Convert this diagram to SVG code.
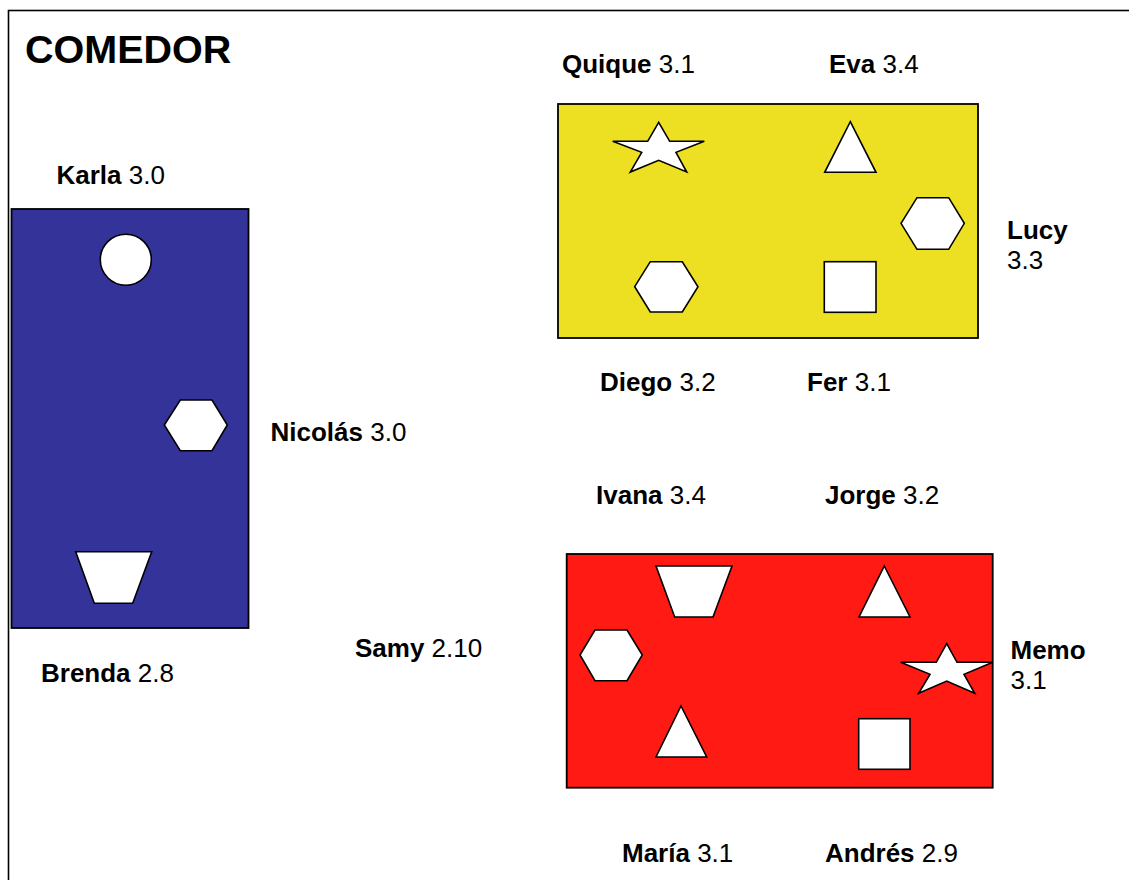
<svg xmlns="http://www.w3.org/2000/svg" width="1129" height="880" viewBox="0 0 1129 880">
<style>
.frame{fill:none;stroke:#000;stroke-width:1.6}
.table{stroke:#000;stroke-width:1.8}
.seat{fill:#fff;stroke:#000;stroke-width:1.6;stroke-linejoin:miter}
text{font-family:"Liberation Sans",Arial,sans-serif;font-size:26px;fill:#000}
.b{font-weight:bold}
.title{font-size:39.5px;font-weight:bold}
</style>
<rect width="1129" height="880" fill="#fff"/>
<rect class="frame" x="8.5" y="10.5" width="1200" height="1000"/>
<text class="title" x="25" y="63">COMEDOR</text>

<g id="mesa-azul">
<rect class="table" x="11.5" y="209" width="237" height="419" fill="#333399"/>
<circle class="seat" cx="125.8" cy="259.7" r="25.5"/>
<polygon class="seat" points="164.3,425 180.3,400 212,400 227.3,425 212,450.7 180.3,450.7"/>
<polygon class="seat" points="75.7,551.7 151.7,551.7 132.7,603.3 94.3,603.3"/>
</g>

<g id="mesa-amarilla">
<rect class="table" x="558" y="104" width="420" height="234" fill="#EDDF22"/>
<polygon class="seat" points="658.7,122.3 669.7,141.3 704.3,141.3 676,152.3 686.7,172 658.7,160.3 630.3,172 641.7,152.3 612.7,141.3 647.7,141.3"/>
<polygon class="seat" points="850.3,121.7 876,172.3 824.7,172.3"/>
<polygon class="seat" points="901,223.3 917,197.7 948.7,197.7 964.3,223.3 948.7,249.3 917,249.3"/>
<polygon class="seat" points="634.7,286.7 650.3,261.7 682.3,261.7 698,286.7 682.3,312 650.3,312"/>
<rect class="seat" x="824.3" y="261.7" width="51.7" height="50.6"/>
</g>

<g id="mesa-roja">
<rect class="table" x="566.7" y="554" width="426" height="233.7" fill="#FF1A14"/>
<polygon class="seat" points="656,566 732,566 713,617 674.7,617"/>
<polygon class="seat" points="884.3,566 910,617 859,617"/>
<polygon class="seat" points="580,655 595,630 627,630 642.3,655 627,680.7 595,680.7"/>
<polygon class="seat" points="946.7,643.7 957,662.3 992.7,662.3 964,674.3 974.7,693.3 946.7,681 918.7,693.3 930,674.3 900.7,662.3 936.3,662.3"/>
<polygon class="seat" points="681,706 706.7,757 656,757"/>
<rect class="seat" x="858.7" y="718.7" width="51.3" height="50.6"/>
</g>

<g id="nombres">
<text x="56.5" y="184"><tspan class="b">Karla</tspan> 3.0</text>
<text x="270.5" y="441"><tspan class="b">Nicolás</tspan> 3.0</text>
<text x="41" y="682"><tspan class="b">Brenda</tspan> 2.8</text>
<text x="355" y="657"><tspan class="b">Samy</tspan> 2.10</text>
<text x="562" y="73"><tspan class="b">Quique</tspan> 3.1</text>
<text x="829" y="73"><tspan class="b">Eva</tspan> 3.4</text>
<text x="1007" y="239" class="b">Lucy</text>
<text x="1007" y="269">3.3</text>
<text x="600" y="391"><tspan class="b">Diego</tspan> 3.2</text>
<text x="807" y="391"><tspan class="b">Fer</tspan> 3.1</text>
<text x="596" y="504"><tspan class="b">Ivana</tspan> 3.4</text>
<text x="825" y="504"><tspan class="b">Jorge</tspan> 3.2</text>
<text x="1010.5" y="659" class="b">Memo</text>
<text x="1010.5" y="689">3.1</text>
<text x="622" y="862"><tspan class="b">María</tspan> 3.1</text>
<text x="825" y="862"><tspan class="b">Andrés</tspan> 2.9</text>
</g>
</svg>
